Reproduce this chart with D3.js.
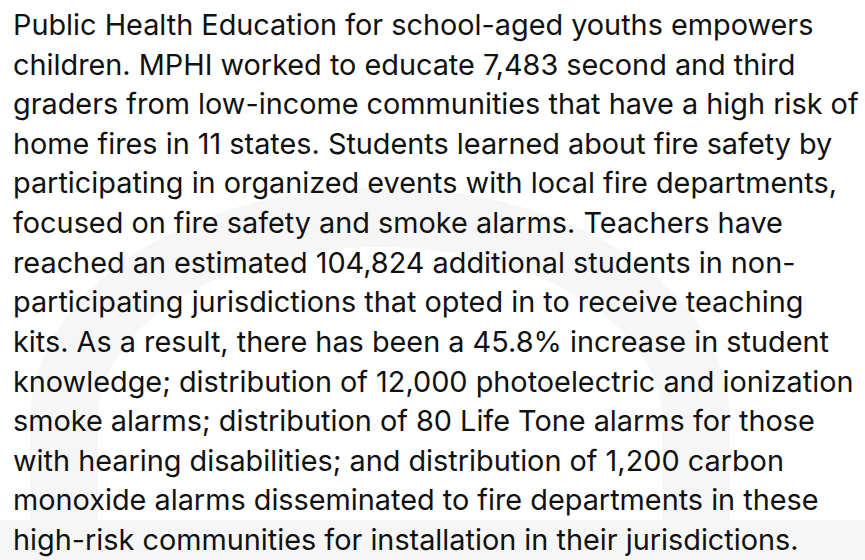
<!DOCTYPE html>
<html>
<head>
<meta charset="utf-8">
<script src="https://cdn.jsdelivr.net/npm/d3@7"></script>
<style>
  html, body { margin: 0; padding: 0; background: #ffffff; }
  svg { display: block; }
</style>
</head>
<body>
<div id="chart"></div>
<script>
// ---- Data: the paragraph, line by line as wrapped in the reference ----
const paragraphLines = [
  "Public Health Education for school-aged youths empowers",
  "children. MPHI worked to educate 7,483 second and third",
  "graders from low-income communities that have a high risk of",
  "home fires in 11 states. Students learned about fire safety by",
  "participating in organized events with local fire departments,",
  "focused on fire safety and smoke alarms. Teachers have",
  "reached an estimated 104,824 additional students in non-",
  "participating jurisdictions that opted in to receive teaching",
  "kits. As a result, there has been a 45.8% increase in student",
  "knowledge; distribution of 12,000 photoelectric and ionization",
  "smoke alarms; distribution of 80 Life Tone alarms for those",
  "with hearing disabilities; and distribution of 1,200 carbon",
  "monoxide alarms disseminated to fire departments in these",
  "high-risk communities for installation in their jurisdictions."
];

const W = 865, H = 560;
const svg = d3.select("#chart").append("svg")
  .attr("width", W).attr("height", H);

// ---- Faint background arch watermark ----
const bg = svg.append("g");
const cx = 380, cy = 420;
const outerA = 350, outerB = 233, innerA = 282, innerB = 173;
const baseTop = 520;
function archPath() {
  const p = d3.path();
  // outer left leg bottom -> up -> arc over -> right leg down
  p.moveTo(cx - outerA, baseTop);
  p.lineTo(cx - outerA, cy);
  p.ellipse ? null : null;
  const n = 60;
  for (let i = 0; i <= n; i++) {
    const t = Math.PI - Math.PI * i / n;
    p.lineTo(cx + outerA * Math.cos(t), cy - outerB * Math.sin(t));
  }
  p.lineTo(cx + outerA, baseTop);
  p.lineTo(cx + innerA, baseTop);
  p.lineTo(cx + innerA, cy);
  for (let i = 0; i <= n; i++) {
    const t = Math.PI * i / n;
    p.lineTo(cx + innerA * Math.cos(t), cy - innerB * Math.sin(t));
  }
  p.lineTo(cx - innerA, baseTop);
  p.closePath();
  return p.toString();
}
bg.append("path").attr("d", archPath()).attr("fill", "#f6f6f6");
bg.append("rect").attr("x", 0).attr("y", baseTop).attr("width", W).attr("height", H - baseTop)
  .attr("fill", "#f6f6f6");

// ---- Paragraph text ----
const y = d3.scaleLinear().domain([0, paragraphLines.length - 1]).range([35, 550]);
const txt = svg.append("g")
  .attr("font-family", "Inter, 'Noto Sans', sans-serif")
  .attr("fill", "#111111");

let fontSize = 28;
txt.selectAll("text").data(paragraphLines).join("text")
  .attr("x", 13)
  .attr("y", (d, i) => y(i))
  .attr("font-size", fontSize)
  .text(d => d);

// fit the widest line to the reference's text block width
const widths = txt.selectAll("text").nodes().map(n => n.getComputedTextLength());
const maxW = d3.max(widths);
const target = 846;
fontSize = fontSize * target / maxW;
txt.selectAll("text").attr("font-size", fontSize);
</script>
</body>
</html>
